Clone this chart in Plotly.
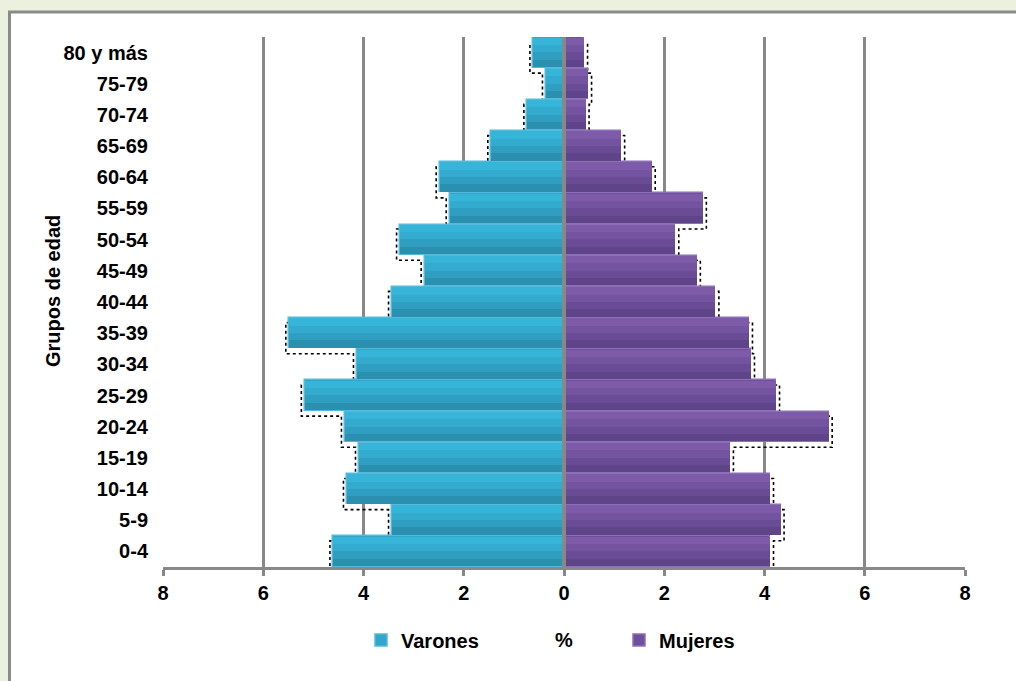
import plotly.graph_objects as go

# ---------------- data ----------------
grupos = ['0-4', '5-9', '10-14', '15-19', '20-24', '25-29', '30-34', '35-39',
          '40-44', '45-49', '50-54', '55-59', '60-64', '65-69', '70-74', '75-79', '80 y más']
varones = [4.60, 3.43, 4.33, 4.09, 4.37, 5.17, 4.13, 5.48,
           3.43, 2.78, 3.27, 2.28, 2.48, 1.45, 0.73, 0.36, 0.61]
mujeres = [4.11, 4.32, 4.11, 3.31, 5.28, 4.23, 3.73, 3.69,
           3.02, 2.65, 2.22, 2.77, 1.75, 1.14, 0.43, 0.48, 0.40]
x_tickvals = [-8, -6, -4, -2, 0, 2, 4, 6, 8]
x_ticktext = ['8', '6', '4', '2', '0', '2', '4', '6', '8']

# ---------------- style ----------------
FONT = 'Liberation Sans, Arial, sans-serif'
GRID = '#888888'
BG = '#EBF1DE'
BLUE_BANDS = ['#37B5D9', '#33ABCF', '#2F9EC0', '#2B90B0']
PURP_BANDS = ['#7D5BA9', '#7453A0', '#6A4B95', '#60448A']
SH_DX = 0.07   # shadow offset (axis units)
SH_DY = 0.16   # shadow offset (category units)

pos = list(range(len(grupos)))
neg_varones = [-v for v in varones]

fig = go.Figure()


def shadow_path(vals, sign):
    xs, ys = [], []
    for i, v in zip(pos, vals):
        xx = sign * (v + SH_DX)
        xs += [xx, xx]
        ys += [i - 0.5 - SH_DY, i + 0.5 - SH_DY]
    return xs, ys


for vals, sign in ((varones, -1), (mujeres, 1)):
    sx, sy = shadow_path(vals, sign)
    fig.add_trace(go.Scatter(x=sx, y=sy, mode='lines',
                             line=dict(color='black', width=1.6, dash='dot'),
                             showlegend=False, hoverinfo='skip',
                             xaxis='x', yaxis='y'))

# full bars (legend carriers)
fig.add_trace(go.Bar(y=pos, x=neg_varones, orientation='h', name='Varones',
                     width=0.97, offset=-0.485,
                     marker=dict(color='#31A6CA', line=dict(color='#55BAD9', width=1.5)),
                     legend='legend', xaxis='x2', yaxis='y2'))
fig.add_trace(go.Bar(y=pos, x=mujeres, orientation='h', name='Mujeres',
                     width=0.97, offset=-0.485,
                     marker=dict(color='#6E4F9C', line=dict(color='#8C70B7', width=1.5)),
                     legend='legend2', xaxis='x2', yaxis='y2'))

# gradient bands
band_w = 0.235
band_offsets = [0.24, 0.005, -0.23, -0.465]
for off, cb, cp in zip(band_offsets, BLUE_BANDS, PURP_BANDS):
    fig.add_trace(go.Bar(y=pos, x=neg_varones, orientation='h', width=band_w, offset=off,
                         marker=dict(color=cb, line=dict(width=0)),
                         showlegend=False, hoverinfo='skip', xaxis='x2', yaxis='y2'))
    fig.add_trace(go.Bar(y=pos, x=mujeres, orientation='h', width=band_w, offset=off,
                         marker=dict(color=cp, line=dict(width=0)),
                         showlegend=False, hoverinfo='skip', xaxis='x2', yaxis='y2'))

yr = [-0.5, len(grupos) - 0.5]
bold20 = dict(family=FONT, size=20, color='black', weight='bold')
fig.update_layout(
    width=1016, height=681,
    margin=dict(l=163, r=51, t=37, b=114),
    paper_bgcolor=BG,
    plot_bgcolor='rgba(0,0,0,0)',
    barmode='overlay',
    bargap=0,
    font=bold20,
    xaxis=dict(range=[-8, 8], tickvals=x_tickvals, ticktext=x_ticktext,
               showgrid=True, gridcolor=GRID, gridwidth=3, zeroline=False,
               showline=True, linecolor=GRID, linewidth=3,
               ticks='outside', ticklen=6, tickwidth=3, tickcolor=GRID,
               tickfont=bold20,
               title=dict(text='%', standoff=30, font=bold20),
               fixedrange=True),
    yaxis=dict(range=yr, tickvals=pos, ticktext=grupos, showgrid=False, zeroline=False,
               showline=False, ticks='', ticklabelstandoff=14,
               tickfont=bold20, fixedrange=True),
    xaxis2=dict(overlaying='x', matches='x', visible=False, range=[-8, 8]),
    yaxis2=dict(overlaying='y', matches='y', visible=False, range=yr),
    legend=dict(x=(361 - 163) / 802, y=(567 - 640) / 530, xanchor='left', yanchor='middle',
                bgcolor='rgba(0,0,0,0)', font=bold20),
    legend2=dict(x=(619 - 163) / 802, y=(567 - 640) / 530, xanchor='left', yanchor='middle',
                 bgcolor='rgba(0,0,0,0)', font=bold20),
    annotations=[
        dict(text='Grupos de edad', textangle=-90, showarrow=False,
             xref='paper', yref='paper', x=(53 - 163) / 802, y=(567 - 291) / 530,
             xanchor='center', yanchor='middle', font=bold20),
    ],
    shapes=[
        dict(type='rect', xref='paper', yref='paper',
             x0=(9.5 - 163) / 802, x1=(1030 - 163) / 802,
             y0=(567 - 700) / 530, y1=1 + (37 - 12) / 530,
             fillcolor='white', line=dict(color='#8A8A8A', width=3), layer='below'),
        dict(type='line', xref='x', yref='paper', x0=0, x1=0, y0=0, y1=1,
             line=dict(color=GRID, width=4), layer='above'),
    ],
)

fig.write_html('out.html',
               config={'displayModeBar': False},
               post_script="document.body.style.margin='0';"
                           "document.body.style.overflow='hidden';"
                           "document.body.style.background='" + BG + "';")
